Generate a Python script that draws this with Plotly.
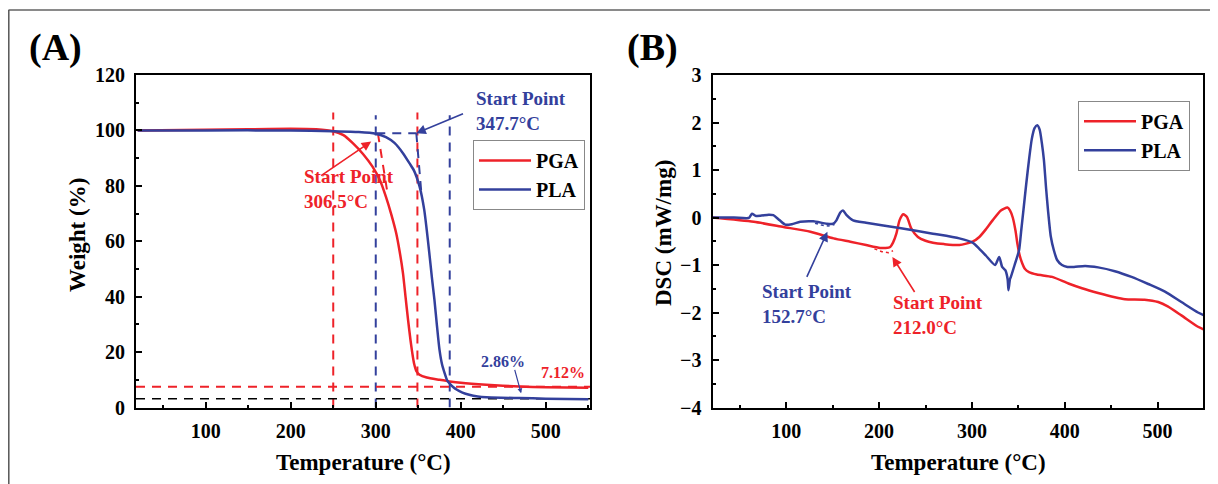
import plotly.graph_objects as go

# ---------------- data: TGA (panel A) ----------------
tga_T_pga = [20, 100, 150, 200, 230, 250, 262, 273, 285, 296, 305, 312, 318, 324, 328, 332,
             335, 338, 341, 343, 345, 348, 351.5, 360, 375, 387, 400, 430, 469, 500, 550]
tga_W_pga = [100, 100.2, 100.4, 100.6, 100.4, 99.7, 98.3, 95.4, 91.5, 87, 82, 76, 70, 63, 56.5, 48.5,
             40, 31.6, 24, 19.6, 16, 13, 11.8, 10.8, 10, 9.4, 8.9, 8.2, 7.6, 7.3, 7.1]

tga_T_pla = [20, 100, 200, 250, 280, 300, 312, 322, 332, 340, 345, 351.5, 357, 360, 363, 366, 369,
             372, 375, 378, 381, 384, 387, 391, 395, 402, 410, 420, 430, 469, 500, 550]
tga_W_pla = [100, 100, 100, 99.7, 99.4, 98.8, 97.6, 95.5, 91.8, 88, 85.5, 79.8, 71.4, 64, 55.7, 47, 38.9,
             29.5, 20.8, 15.5, 12.4, 9.8, 8.6, 7.4, 6.5, 5.4, 4.6, 4.0, 3.7, 3.4, 3.2, 3.0]

# guide lines (panel A)
pga_vert_T = [250, 349]
pla_vert_T = [300, 387]
guide_top_pga = 106.5
guide_top_pla = 105.5
pga_residue_line = 7.5
pla_residue_line = 3.2
pla_base_T = [300.6, 347.7]
pla_base_W = [99.0, 99.0]
pla_tan_T = [347.7, 353.5]
pla_tan_W = [99.0, 78.0]
pga_tan_T = [302.5, 314.0]
pga_tan_W = [99.0, 77.0]

# ---------------- data: DSC (panel B) ----------------
dsc_T_pga = [20, 65, 97, 126, 151, 169, 186, 201, 207, 212, 215, 218.6, 222, 226, 230, 234.6, 241.8, 250,
             258, 270, 286.5, 300.7, 308, 315, 322.3, 331.2, 338.3, 341, 344, 347, 349, 351.5, 354.3, 357,
             361.5, 370, 386.5, 404, 418.6, 436, 454, 465, 486, 500.7, 511, 525.7, 543.6, 550]
dsc_pga = [0, -0.09, -0.2, -0.30, -0.44, -0.51, -0.58, -0.64, -0.64, -0.62, -0.53, -0.34, -0.06, 0.07, 0.01,
           -0.23, -0.41, -0.49, -0.53, -0.56, -0.58, -0.51, -0.41, -0.25, -0.06, 0.15, 0.21, 0.15, 0.0,
           -0.28, -0.55, -0.8, -0.97, -1.08, -1.15, -1.2, -1.25, -1.39, -1.49, -1.59, -1.68, -1.72, -1.73,
           -1.78, -1.87, -2.06, -2.3, -2.36]

dsc_T_pla = [20, 43.6, 59.6, 63, 66.8, 72, 81, 86, 93, 99, 106, 115, 129, 143.6, 150.7, 154, 158, 161, 165,
             172, 186, 222, 258, 286.5, 300.8, 308, 315, 325, 329.4, 332.6, 336, 338.5, 339.4, 341, 342, 346,
             350.8, 353, 355.5, 358.5, 361.5, 364.5, 367.5, 370.4, 373, 375.5, 377.6, 380, 382, 385, 388.3,
             392, 397, 403, 410, 422, 436, 454, 472, 490, 508, 525.7, 543.6, 550]
dsc_pla = [0, 0, -0.01, 0.08, 0.035, 0.035, 0.06, 0.05, -0.06, -0.15, -0.14, -0.09, -0.08, -0.13, -0.13,
           -0.06, 0.1, 0.15, 0.05, -0.06, -0.11, -0.22, -0.34, -0.44, -0.53, -0.66, -0.8, -1.0, -0.83,
           -1.04, -1.11, -1.3, -1.53, -1.3, -1.25, -1.0, -0.69, -0.3, 0.15, 0.7, 1.21, 1.65, 1.88, 1.94,
           1.85, 1.55, 1.21, 0.6, 0.15, -0.4, -0.69, -0.9, -1.0, -1.04, -1.04, -1.02, -1.05, -1.13, -1.25,
           -1.40, -1.56, -1.78, -2.0, -2.06]

pla_onset_T = [131, 138, 145, 152]
pla_onset_v = [-0.12, -0.16, -0.18, -0.15]
pga_onset_T = [195, 203, 210, 215]
pga_onset_v = [-0.66, -0.72, -0.74, -0.70]

series_names = ["PGA", "PLA"]

# ---------------- style ----------------
RED = "#EE2229"
BLUE = "#33409C"
FONT = "Liberation Serif"
OFF = 8                      # page body margin
W, H = 1218 - OFF, 484 - OFF

def px(x):
    return (x - OFF) / W

def py(y):
    return 1 - (y - OFF) / H

fig = go.Figure()

DASH = "9px,7px"
# guide lines panel A
for t in pga_vert_T:
    fig.add_trace(go.Scatter(x=[t, t], y=[0, guide_top_pga], mode="lines", showlegend=False,
                             line=dict(color=RED, width=2, dash=DASH), hoverinfo="skip"))
for t in pla_vert_T:
    fig.add_trace(go.Scatter(x=[t, t], y=[0, guide_top_pla], mode="lines", showlegend=False,
                             line=dict(color=BLUE, width=2, dash=DASH), hoverinfo="skip"))
fig.add_trace(go.Scatter(x=[18, 552], y=[pga_residue_line] * 2, mode="lines", showlegend=False,
                         line=dict(color=RED, width=2, dash=DASH), hoverinfo="skip"))
fig.add_trace(go.Scatter(x=[18, 552], y=[pla_residue_line] * 2, mode="lines", showlegend=False,
                         line=dict(color="black", width=1.5, dash=DASH), hoverinfo="skip"))
fig.add_trace(go.Scatter(x=pla_base_T, y=pla_base_W, mode="lines", showlegend=False,
                         line=dict(color=BLUE, width=2, dash=DASH), hoverinfo="skip"))
fig.add_trace(go.Scatter(x=pla_tan_T, y=pla_tan_W, mode="lines", showlegend=False,
                         line=dict(color=BLUE, width=2, dash=DASH), hoverinfo="skip"))
fig.add_trace(go.Scatter(x=pga_tan_T, y=pga_tan_W, mode="lines", showlegend=False,
                         line=dict(color=RED, width=2, dash=DASH), hoverinfo="skip"))

curve = dict(width=2.5, shape="spline", smoothing=0.6)

# TGA curves
fig.add_trace(go.Scatter(x=tga_T_pga, y=tga_W_pga, mode="lines", name=series_names[0],
                         line=dict(color=RED, **curve), legend="legend"))
fig.add_trace(go.Scatter(x=tga_T_pla, y=tga_W_pla, mode="lines", name=series_names[1],
                         line=dict(color=BLUE, **curve), legend="legend"))

# DSC curves
fig.add_trace(go.Scatter(x=dsc_T_pga, y=dsc_pga, mode="lines", name=series_names[0], xaxis="x2", yaxis="y2",
                         line=dict(color=RED, **curve), legend="legend2"))
fig.add_trace(go.Scatter(x=dsc_T_pla, y=dsc_pla, mode="lines", name=series_names[1], xaxis="x2", yaxis="y2",
                         line=dict(color=BLUE, **curve), legend="legend2"))
fig.add_trace(go.Scatter(x=pla_onset_T, y=pla_onset_v, mode="lines", showlegend=False, xaxis="x2", yaxis="y2",
                         line=dict(color=BLUE, width=1.5, dash="3px,3px"), hoverinfo="skip"))
fig.add_trace(go.Scatter(x=pga_onset_T, y=pga_onset_v, mode="lines", showlegend=False, xaxis="x2", yaxis="y2",
                         line=dict(color=RED, width=1.5, dash="3px,3px"), hoverinfo="skip"))

tickfont = dict(family=FONT, size=20, color="black", weight="bold")
axis_common = dict(showline=True, linewidth=2, linecolor="black", mirror=True, showgrid=False, zeroline=False,
                   ticks="inside", ticklen=6, tickwidth=2, tickcolor="black", tickfont=tickfont,
                   automargin=False)

legend_common = dict(xanchor="left", yanchor="top", bgcolor="white", bordercolor="#888888", borderwidth=1,
                     font=dict(family=FONT, size=20, weight="bold", color="black"), tracegroupgap=0,
                     itemwidth=52)

fig.update_layout(
    width=W, height=H, autosize=False,
    margin=dict(l=0, r=0, t=0, b=0, pad=0, autoexpand=False),
    paper_bgcolor="white", plot_bgcolor="white",
    font=dict(family=FONT, color="black"),
    xaxis=dict(domain=[px(136), px(590)], range=[18, 552], tick0=0, dtick=100, anchor="y",
               minor=dict(ticks="inside", ticklen=3, dtick=50, tickwidth=1.5, tickcolor="black"),
               ticklabelstandoff=4, **axis_common),
    yaxis=dict(domain=[py(407.5), py(75)], range=[0, 120], tick0=0, dtick=20, anchor="x",
               minor=dict(ticks="inside", ticklen=3, dtick=10, tickwidth=1.5, tickcolor="black"),
               ticklabelstandoff=5, **axis_common),
    xaxis2=dict(domain=[px(712.5), px(1203)], range=[20.5, 549], tick0=0, dtick=100, anchor="y2",
                minor=dict(ticks="inside", ticklen=3, dtick=50, tickwidth=1.5, tickcolor="black"),
                ticklabelstandoff=4, **axis_common),
    yaxis2=dict(domain=[py(407.5), py(75)], range=[-4, 3], tick0=0, dtick=1, anchor="x2",
                minor=dict(ticks="inside", ticklen=3, dtick=0.5, tickwidth=1.5, tickcolor="black"),
                ticklabelstandoff=5, **axis_common),
    legend=dict(x=px(473), y=py(140), **legend_common),
    legend2=dict(x=px(1078), y=py(100.7), **legend_common),
    showlegend=True,
)

def bold(size, color="black"):
    return dict(family=FONT, size=size, color=color, weight="bold")

def paper_text(text, x, y, size, angle=0):
    fig.add_annotation(text=text, x=px(x), y=py(y), xref="paper", yref="paper", xanchor="center",
                       yanchor="middle", textangle=angle, showarrow=False, font=bold(size))

# panel labels and axis titles
paper_text("(A)", 55, 47, 38)
paper_text("(B)", 652, 47, 38)
paper_text("Temperature (°C)", 363, 462, 23)
paper_text("Temperature (°C)", 958, 462, 23)
paper_text("Weight (%)", 77, 235, 23, -90)
paper_text("DSC (mW/mg)", 663, 233, 23, -90)

# panel A texts
fig.add_annotation(text="Start Point<br>347.7°C", x=416, y=106.9, xref="x", yref="y", xanchor="left",
                   yanchor="middle", align="left", showarrow=False, font=bold(19, BLUE))
fig.add_annotation(text="Start Point<br>306.5°C", x=213, y=78.7, xref="x", yref="y", xanchor="left",
                   yanchor="middle", align="left", showarrow=False, font=bold(19, RED))
fig.add_annotation(text="2.86%", x=449.5, y=16.5, xref="x", yref="y", xanchor="center", yanchor="middle",
                   showarrow=False, font=bold(16, BLUE))
fig.add_annotation(text="7.12%", x=520, y=12.6, xref="x", yref="y", xanchor="center", yanchor="middle",
                   showarrow=False, font=bold(16, RED))

# panel A arrows
arrow_style = dict(showarrow=True, arrowhead=2, arrowsize=1.2, arrowwidth=1.6, text="")
fig.add_annotation(x=294.7, y=96, ax=234, ay=83.3, xref="x", yref="y", axref="x", ayref="y",
                   arrowcolor=RED, **arrow_style)
fig.add_annotation(x=347.6, y=99, ax=404.4, ay=106.2, xref="x", yref="y", axref="x", ayref="y",
                   arrowcolor=BLUE, **arrow_style)
fig.add_annotation(x=471, y=5.1, ax=463, ay=14.1, xref="x", yref="y", axref="x", ayref="y",
                   arrowcolor=BLUE, showarrow=True, arrowhead=2, arrowsize=0.8, arrowwidth=1.2, text="")

# panel B texts
fig.add_annotation(text="Start Point<br>152.7°C", x=72, y=-1.815, xref="x2", yref="y2", xanchor="left",
                   yanchor="middle", align="left", showarrow=False, font=bold(19, BLUE))
fig.add_annotation(text="Start Point<br>212.0°C", x=212.5, y=-2.055, xref="x2", yref="y2", xanchor="left",
                   yanchor="middle", align="left", showarrow=False, font=bold(19, RED))
fig.add_annotation(x=144.3, y=-0.30, ax=121.4, ay=-1.28, xref="x2", yref="y2", axref="x2", ayref="y2",
                   arrowcolor=BLUE, **arrow_style)
fig.add_annotation(x=214.3, y=-0.83, ax=239.3, ay=-1.6, xref="x2", yref="y2", axref="x2", ayref="y2",
                   arrowcolor=RED, **arrow_style)

# outer frame (top and left edges)
fig.add_shape(type="line", xref="paper", yref="paper", x0=px(8.5), x1=1, y0=py(10), y1=py(10),
              line=dict(color="#8a8a8a", width=2))
fig.add_shape(type="line", xref="paper", yref="paper", x0=px(8.8), x1=px(8.8), y0=py(10), y1=0,
              line=dict(color="#555555", width=1.5))

fig.write_html("out.html")
